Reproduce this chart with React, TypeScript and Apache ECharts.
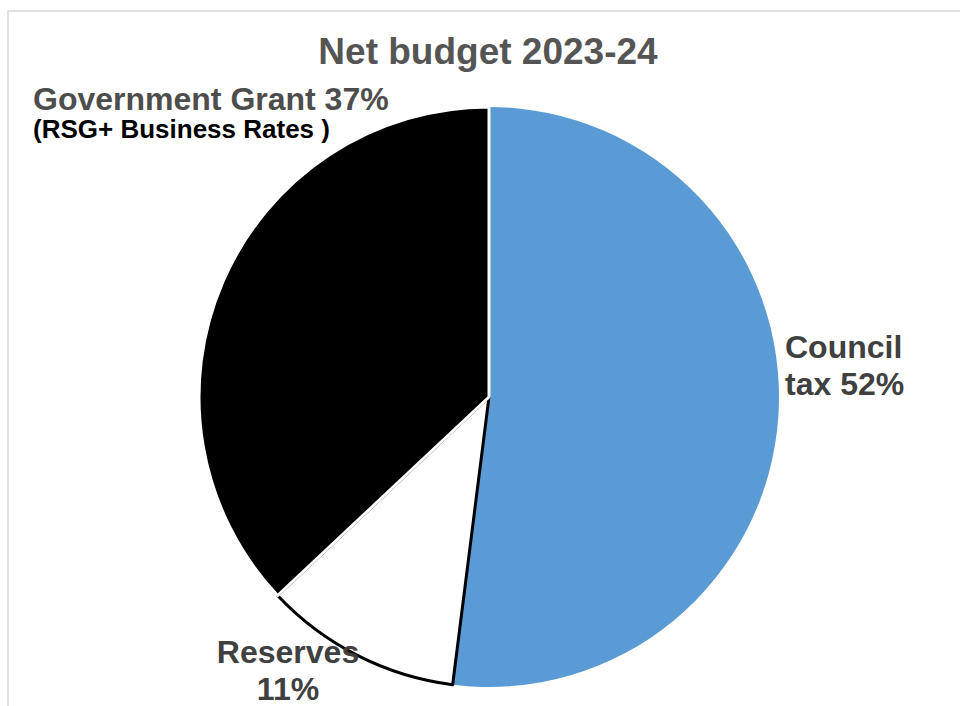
import React, { useEffect, useRef } from "react";
import * as echarts from "echarts";

const title = "Net budget 2023-24";
const categories = ["Council tax", "Reserves", "Government Grant"];
const values = [52, 11, 37];
const colors = ["#5B9BD5", "#FFFFFF", "#000000"];
const grantNote = "(RSG+ Business Rates )";

const FONT = "Liberation Sans, Arial, sans-serif";

export default function App() {
  const ref = useRef<HTMLDivElement>(null);
  useEffect(() => {
    if (!ref.current) return;
    const chart = echarts.init(ref.current, null, { renderer: "svg" });
    const layouts = [
      { x: 785, y: 328, align: "left", verticalAlign: "top" },
      { x: 288, y: 633, align: "center", verticalAlign: "top" },
      { x: 33, y: 83, align: "left", verticalAlign: "top" },
    ];
    const borders = [
      { borderColor: "#FFFFFF", borderWidth: 0 },
      { borderColor: "#000000", borderWidth: 3 },
      { borderColor: "#FFFFFF", borderWidth: 3 },
    ];
    const labelOverrides = [
      {},
      {},
      { fontSize: 32, lineHeight: 32, color: "#4D4D4D" },
    ];
    chart.setOption({
      animation: false,
      backgroundColor: "#FFFFFF",
      title: {
        text: title,
        left: 488,
        top: 33,
        textAlign: "center",
        padding: 0,
        textStyle: {
          fontFamily: FONT,
          fontSize: 37,
          fontWeight: "bold",
          color: "#555555",
          lineHeight: 37,
        },
      },
      graphic: [
        {
          type: "rect",
          shape: { x: 8, y: 11, width: 1200, height: 900 },
          style: { fill: "none", stroke: "#D9D9D9", lineWidth: 1.5 },
          silent: true,
        },
      ],
      series: [
        {
          type: "pie",
          center: [489, 397],
          radius: [0, 290],
          startAngle: 90,
          clockwise: true,
          avoidLabelOverlap: false,
          labelLine: { show: false },
          label: {
            show: true,
            position: "outside",
            fontFamily: FONT,
            fontWeight: "bold",
            fontSize: 32,
            lineHeight: 37,
            color: "#404040",
            formatter: (p: any) => {
              const v = values[p.dataIndex];
              if (p.dataIndex === 0) return `Council\ntax ${v}%`;
              if (p.dataIndex === 1) return `Reserves\n${v}%`;
              return `${categories[2]} ${v}%\n{b|${grantNote}}`;
            },
            rich: {
              b: {
                fontFamily: FONT,
                fontWeight: "bold",
                fontSize: 26,
                lineHeight: 28,
                color: "#000000",
              },
            },
          },
          labelLayout: (params: any) => layouts[params.dataIndex],
          data: categories.map((name, i) => ({
            name,
            value: values[i],
            itemStyle: { color: colors[i], ...borders[i] },
            label: labelOverrides[i],
          })),
        },
      ],
    });
    return () => chart.dispose();
  }, []);
  return (
    <div
      ref={ref}
      style={{ position: "fixed", left: 0, top: 0, width: 960, height: 706 }}
    />
  );
}
